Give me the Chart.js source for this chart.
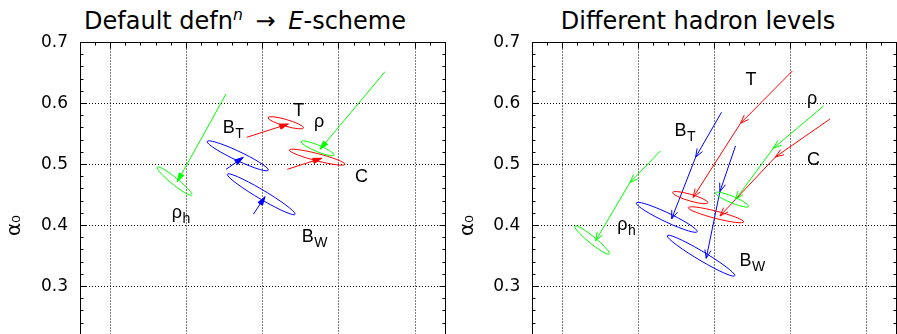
<!DOCTYPE html>
<html>
<head>
<meta charset="utf-8">
<script src="https://cdn.jsdelivr.net/npm/chart.js@4.4.1/dist/chart.umd.min.js"></script>
<style>
  html, body { margin: 0; padding: 0; background: #fff; }
  body { position: relative; width: 897px; height: 334px; overflow: hidden; }
  canvas { position: absolute; top: 0; }
  #leftChart { left: 0; }
  #rightChart { left: 448px; }
  .title {
    position: absolute; top: 9px; transform: translateX(-50%);
    font-family: 'DejaVu Sans', sans-serif; font-size: 24px; line-height: 24px;
    white-space: nowrap; color: #000;
  }
  .title sup { font-size: 0.65em; line-height: 0; vertical-align: 0.6em; }
  .title .arr { margin: 0 5px; }
</style>
</head>
<body>
<div class="title" style="left:245px">Default defn<sup><i>n</i></sup> <span class="arr">&rarr;</span> <i>E</i>-scheme</div>
<div class="title" style="left:698px">Different hadron levels</div>
<canvas id="leftChart" width="448" height="440"></canvas>
<canvas id="rightChart" width="449" height="440"></canvas>
<script>
// ===== Data =====
const observables = ['T', 'C', 'ρ', 'ρ_h', 'B_T', 'B_W'];
const labelMain = ['T', 'C', 'ρ', 'ρ', 'B', 'B'];
const labelSub = ['', '', '', 'h', 'T', 'W'];

const xTicks = [0.110, 0.115, 0.120, 0.125, 0.130];
const yTicks = [0.1, 0.2, 0.3, 0.4, 0.5, 0.6, 0.7];

// fit uncertainties (1-sigma contour), same in both panels
const sigmaAlphaS = [0.00117, 0.00183, 0.00109, 0.00114, 0.00201, 0.00223];
const sigmaAlpha0 = [0.0100, 0.0131, 0.0123, 0.0233, 0.0246, 0.0336];
const correlation = [-0.825, -0.885, -0.881, -0.949, -0.943, -0.967];

// left panel: default definition -> E-scheme
const leftFitAlphaS = [0.12151, 0.12357, 0.12360, 0.11421, 0.11836, 0.11990];
const leftFitAlpha0 = [0.5684, 0.5120, 0.5265, 0.4727, 0.5142, 0.4512];
const leftFromAlphaS = [0.11895, 0.12161, 0.12803, 0.11759, 0.11759, 0.11938];
const leftFromAlpha0 = [0.5446, 0.4921, 0.6521, 0.6156, 0.4921, 0.4184];
const leftToAlphaS = [0.12168, 0.12387, 0.12376, 0.11439, 0.11872, 0.12015];
const leftToAlpha0 = [0.5664, 0.5102, 0.5249, 0.4718, 0.5118, 0.4472];
const leftLabelAlphaS = [0.12201, 0.12606, 0.12337, 0.11402, 0.11737, 0.12256];
const leftLabelAlpha0 = [0.5795, 0.4705, 0.5607, 0.4131, 0.5512, 0.3734];

// right panel: different hadron levels
const rightFitAlphaS = [0.11841, 0.12010, 0.12116, 0.11194, 0.11686, 0.11912];
const rightFitAlpha0 = [0.4457, 0.4176, 0.4425, 0.3762, 0.4134, 0.3505];
const rightFromAlphaS = [0.12514, 0.12762, 0.12720, 0.11645, 0.12047, 0.12139];
const rightFromAlpha0 = [0.6533, 0.5746, 0.5959, 0.5226, 0.5856, 0.5303];
const rightViaAlphaS = [0.12172, 0.12402, 0.12388, 0.11443, 0.11876, 0.12036];
const rightViaAlpha0 = [0.5675, 0.5123, 0.5266, 0.4702, 0.5118, 0.4554];
const rightToAlphaS = [0.11860, 0.12037, 0.12139, 0.11217, 0.11718, 0.11946];
const rightToAlpha0 = [0.4462, 0.4156, 0.4425, 0.3751, 0.4107, 0.3462];
const rightLabelAlphaS = [0.12205, 0.12610, 0.12610, 0.11360, 0.11737, 0.12165];
const rightLabelAlpha0 = [0.6303, 0.4984, 0.5995, 0.3934, 0.5467, 0.3328];

// ===== Styles =====
const colours = ['#ff0000', '#ff0000', '#00ff00', '#00ff00', '#0000ff', '#0000ff'];

// ===== Helpers =====
const al = v => Math.round(v - 0.5) + 0.5;

function drawHead(ctx, x0, y0, x1, y1, filled) {
    const ang = Math.atan2(y1 - y0, x1 - x0);
    const len = 9;
    const spread = filled ? 0.3 : 0.35;
    ctx.beginPath();
    ctx.moveTo(x1 - len * Math.cos(ang - spread), y1 - len * Math.sin(ang - spread));
    ctx.lineTo(x1, y1);
    ctx.lineTo(x1 - len * Math.cos(ang + spread), y1 - len * Math.sin(ang + spread));
    if (filled) {
        ctx.closePath();
        ctx.fill();
    }
    ctx.stroke();
}

function extrasPlugin(cfg) {
    return {
        id: 'panelExtras',
        beforeDatasetsDraw(chart) {
            // frame with major and minor ticks
            const ctx = chart.ctx;
            const xs = chart.scales.x, ys = chart.scales.y;
            const L = al(chart.chartArea.left), R = al(chart.chartArea.right);
            const T = al(chart.chartArea.top), B = al(chart.chartArea.bottom);
            ctx.save();
            ctx.strokeStyle = '#000';
            ctx.lineWidth = 1;
            ctx.strokeRect(L, T, R - L, B - T);
            ctx.beginPath();
            for (let k = 5; k <= 35; k++) {
                const py = al(ys.getPixelForValue(k * 0.02));
                const len = k % 5 === 0 ? 6 : 3;
                ctx.moveTo(L, py); ctx.lineTo(L + len, py);
                ctx.moveTo(R, py); ctx.lineTo(R - len, py);
            }
            for (let k = 108; k <= 132; k++) {
                const px = al(xs.getPixelForValue(k / 1000));
                const len = k % 5 === 0 ? 6 : 3;
                ctx.moveTo(px, T); ctx.lineTo(px, T + len);
                ctx.moveTo(px, B); ctx.lineTo(px, B - len);
            }
            ctx.stroke();
            ctx.restore();
        },
        afterDatasetsDraw(chart) {
            const ctx = chart.ctx;
            const xs = chart.scales.x, ys = chart.scales.y;
            ctx.save();
            ctx.lineWidth = 1;

            // error ellipses
            observables.forEach((name, i) => {
                const cx = xs.getPixelForValue(cfg.fitAlphaS[i]);
                const cy = ys.getPixelForValue(cfg.fitAlpha0[i]);
                const ux = xs.getPixelForValue(cfg.fitAlphaS[i] + sigmaAlphaS[i]) - cx;
                const uy = ys.getPixelForValue(cfg.fitAlpha0[i] + correlation[i] * sigmaAlpha0[i]) - cy;
                const vy = ys.getPixelForValue(cfg.fitAlpha0[i] + Math.sqrt(1 - correlation[i] * correlation[i]) * sigmaAlpha0[i]) - cy;
                ctx.save();
                ctx.beginPath();
                ctx.transform(ux, uy, 0, vy, cx, cy);
                ctx.arc(0, 0, 1, 0, Math.PI * 2);
                ctx.restore();
                ctx.strokeStyle = colours[i];
                ctx.stroke();
            });

            // arrow heads at every point after the first
            chart.data.datasets.forEach((ds, i) => {
                const pts = chart.getDatasetMeta(i).data;
                ctx.strokeStyle = colours[i];
                ctx.fillStyle = colours[i];
                for (let j = 1; j < pts.length; j++) {
                    drawHead(ctx, pts[j - 1].x, pts[j - 1].y, pts[j].x, pts[j].y, cfg.filledHeads);
                }
            });

            // labels
            ctx.fillStyle = '#000';
            ctx.textAlign = 'left';
            ctx.textBaseline = 'alphabetic';
            observables.forEach((name, i) => {
                const px = xs.getPixelForValue(cfg.labelAlphaS[i]);
                const py = ys.getPixelForValue(cfg.labelAlpha0[i]);
                ctx.font = '18px "Liberation Sans", Arial, sans-serif';
                ctx.fillText(labelMain[i], px, py);
                if (labelSub[i]) {
                    const w = ctx.measureText(labelMain[i]).width;
                    ctx.font = '14px "Liberation Sans", Arial, sans-serif';
                    ctx.fillText(labelSub[i], px + w + 0.5, py + 5);
                }
            });
            ctx.restore();
        }
    };
}

function makePanel(canvasId, cfg) {
    const datasets = observables.map((name, i) => ({
        label: name,
        data: cfg.pathAlphaS.map((arr, j) => ({ x: arr[i], y: cfg.pathAlpha0[j][i] })),
        showLine: true,
        borderColor: colours[i],
        backgroundColor: colours[i],
        borderWidth: 1,
        pointRadius: 0,
        pointHoverRadius: 0,
        tension: 0,
        fill: false
    }));

    const gridStyle = { color: '#000', lineWidth: 1, drawTicks: false };

    return new Chart(document.getElementById(canvasId), {
        type: 'scatter',
        data: { datasets: datasets },
        options: {
            responsive: false,
            animation: false,
            devicePixelRatio: 1,
            events: [],
            layout: { padding: { left: 0, top: 42.5, right: cfg.padRight, bottom: 31.5 } },
            plugins: { legend: { display: false }, tooltip: { enabled: false } },
            scales: {
                x: {
                    type: 'linear',
                    min: 0.108,
                    max: 0.132,
                    afterBuildTicks: s => { s.ticks = xTicks.map(v => ({ value: v })); },
                    afterFit: s => { s.height = 0; },
                    ticks: { display: false },
                    grid: gridStyle,
                    border: { display: false, dash: [1, 2] }
                },
                y: {
                    type: 'linear',
                    min: 0.1,
                    max: 0.7,
                    afterBuildTicks: s => { s.ticks = yTicks.map(v => ({ value: v })); },
                    afterFit: s => { s.width = cfg.axisWidth; },
                    ticks: {
                        padding: 12,
                        color: '#000',
                        font: { family: 'DejaVu Sans', size: 17 },
                        callback: v => v.toFixed(1)
                    },
                    grid: gridStyle,
                    border: { display: false, dash: [1, 2] },
                    title: {
                        display: true,
                        text: 'α₀',
                        color: '#000',
                        font: { family: 'DejaVu Sans', size: 20 },
                        padding: { top: cfg.titlePad, bottom: 0 }
                    }
                }
            }
        },
        plugins: [extrasPlugin(cfg)]
    });
}

// ===== Build both panels =====
makePanel('leftChart', {
    fitAlphaS: leftFitAlphaS,
    fitAlpha0: leftFitAlpha0,
    pathAlphaS: [leftFromAlphaS, leftToAlphaS],
    pathAlpha0: [leftFromAlpha0, leftToAlpha0],
    labelAlphaS: leftLabelAlphaS,
    labelAlpha0: leftLabelAlpha0,
    filledHeads: true,
    axisWidth: 80,
    padRight: 2.5,
    titlePad: 3
});

makePanel('rightChart', {
    fitAlphaS: rightFitAlphaS,
    fitAlpha0: rightFitAlpha0,
    pathAlphaS: [rightFromAlphaS, rightViaAlphaS, rightToAlphaS],
    pathAlpha0: [rightFromAlpha0, rightViaAlpha0, rightToAlpha0],
    labelAlphaS: rightLabelAlphaS,
    labelAlpha0: rightLabelAlpha0,
    filledHeads: false,
    axisWidth: 84.3,
    padRight: 0.5,
    titlePad: 8
});
</script>
</body>
</html>
